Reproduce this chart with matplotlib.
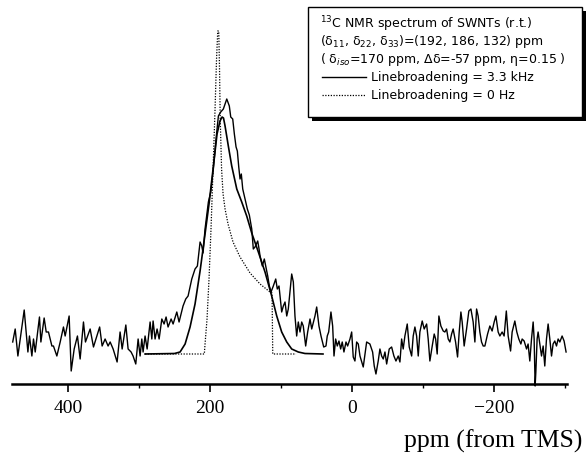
import matplotlib
matplotlib.use("Agg")
import matplotlib.pyplot as plt
from matplotlib.patches import Rectangle
from matplotlib.lines import Line2D

# ---------------- data ----------------
# experimental 13C NMR spectrum (ppm, intensity in arbitrary units)
noise_ppm = [478, 474.5, 470.7, 461.8, 456.6, 454.4, 451, 448.7, 446.3, 440.3,
             438.3, 433.7, 430.8, 427.6, 422.8, 420.6, 415.8, 411.1, 406.5, 404.1,
             398.5, 395.6, 391.4, 386.8, 383, 378.3, 375.5, 368.9, 364.2, 355.5,
             352, 347.8, 343.6, 340.7, 336.5, 330.9, 326.7, 323.8, 318.6, 315.4,
             311.2, 308.4, 304.6, 301.3, 298.5, 296.1, 294.3, 291.5, 288.6, 284.4,
             282, 280.2, 277.4, 274.6, 271.7, 267.9, 264.7, 261.9, 259.1, 254.8,
             252, 246.8, 243.6, 239.8, 238, 234.2, 230.9, 225.7, 221.1, 217.8,
             214, 211.6, 209.8, 207, 202.3, 199, 195.3, 191.5, 188.2, 184.9,
             181.2, 176.4, 172.8, 170.8, 168, 165.7, 163.3, 161.5, 159.5, 157.7,
             155.9, 153.9, 150.7, 147.4, 144.6, 141.2, 139, 136.6, 132.8, 130.9,
             129.5, 126.3, 123.5, 121.5, 118.7, 116.4, 114, 110.8, 107.4, 105.2,
             102.8, 99, 96.7, 94.3, 91.9, 89.7, 84.9, 82.6, 80.3, 77.9,
             75.6, 73.2, 70.8, 68.6, 65.2, 62.4, 59.1, 56.7, 52.1, 49.7,
             46.5, 43.6, 39.8, 36.6, 34.8, 32.8, 29.6, 27.2, 25.3, 23,
             20.7, 18.3, 15.9, 13.7, 11.3, 8.4, 6.1, 2.8, 0.4, -1.8,
             -4.2, -6.6, -8.9, -11.3, -15.9, -20.7, -25.3, -29.1, -31.4, -33.8,
             -37, -39.4, -41.8, -44.1, -46.5, -48.9, -52.5, -55.9, -59.1, -62,
             -65.2, -67.6, -70, -72.2, -74.6, -77.9, -80.7, -84.1, -86.3, -88.7,
             -91.1, -93.4, -95.7, -99, -101.8, -105.2, -107.4, -109.8, -113.1, -115.9,
             -117.9, -120.1, -122.5, -125.3, -128.6, -130.9, -133.3, -135.6, -138, -140.4,
             -142.6, -146, -148.8, -151.1, -153.5, -155.3, -158.1, -161.5, -164.7, -167.6,
             -170.8, -173.2, -175.6, -177.8, -180.2, -182.6, -184.9, -187.3, -191.1, -194.3,
             -197.5, -200.4, -202.8, -206, -208.4, -211.6, -214.4, -217.5, -220.1, -223.5,
             -225.7, -229.5, -232.3, -235.1, -238, -239.8, -242.6, -246, -248.2, -250.6,
             -253, -255.3, -256.7, -258.1, -259.1, -260.9, -262.3, -264.7, -267.1, -269.4,
             -271.7, -274.1, -276.4, -278.8, -281.2, -283.4, -285.8, -288.2, -290.5, -292.9,
             -296.1, -298.9, -301.7]
noise_int = [12, 25, -2, 44, 2, 18, -2, 15, 2, 37,
             12, 36, 22, 22, 8, 8, -2, 12, 27, 18,
             38, -17, 5, 18, -5, 32, 12, 25, 7, 27,
             8, 15, 8, 12, 5, -8, 22, 5, 29, 5,
             2, -2, -10, 15, -2, 15, 2, 18, 5, 32,
             15, 33, 15, 25, 15, 35, 30, 37, 27, 35,
             30, 42, 32, 43, 48, 55, 58, 75, 85, 88,
             112, 108, 101, 125, 152, 162, 185, 215, 238, 242,
             245, 255, 248, 237, 235, 220, 207, 203, 187, 175,
             180, 165, 155, 145, 139, 125, 105, 107, 113, 105,
             98, 88, 95, 88, 78, 68, 62, 68, 75, 65,
             68, 42, 48, 52, 38, 45, 80, 72, 38, 18,
             32, 22, 32, 28, 8, 22, 35, 25, 38, 47,
             28, 18, 7, 8, 18, 22, 42, 28, -2, 15,
             8, 13, 5, 12, 2, 12, 8, 15, 22, -3,
             -7, 12, 10, -2, -13, 12, 10, 2, -12, -20,
             -7, 5, -2, -5, 2, -10, 5, 7, -2, -7,
             -2, -8, 15, 5, 18, 30, 7, -2, 18, 27,
             18, -2, 22, 33, 25, 30, 15, -7, 8, 20,
             15, 0, 38, 28, 23, 22, 25, 15, 12, 20,
             25, 12, -3, 22, 42, 32, 8, 25, 43, 45,
             32, 12, 45, 38, 22, 12, 8, 8, 20, 28,
             23, 32, 38, 22, 18, 22, 18, 43, 18, 3,
             22, 33, 22, 15, 10, 15, 13, 5, 10, -7,
             15, 32, 15, -32, -18, 15, 22, 10, -2, 8,
             -12, 15, 30, 15, -2, 10, 13, 8, 15, 12,
             18, 13, 2]

# simulated powder pattern, line broadening 3.3 kHz
fit_ppm = [291.5, 250, 242.2, 235.1, 228.1, 221.1, 214, 207, 201.4, 195.7,
           190.1, 185.9, 183, 181, 178.8, 174.2, 169.4, 162.3, 155.3, 148.3,
           141.2, 131.9, 122.5, 113.1, 106, 99, 91.9, 84.9, 75.6, 66.2, 40.8]
fit_int = [0, 0.5, 2, 10, 27, 50, 83, 120, 150, 185,
           220, 233, 237, 236, 228, 208, 188, 165, 152, 138,
           121, 102, 82, 58, 38, 22, 12, 5, 2, 0.5, 0]

# simulated powder pattern, line broadening 0 Hz
sim_ppm = [291.5, 208, 207, 204.2, 201.4, 198.6, 195.7, 192.9, 190.8, 189.1,
           187.7, 186.6, 185.6, 183.7, 181.6, 178.8, 174.6, 167.6, 157.7, 143.6,
           129.5, 115.5, 112.6, 111.6, 78.8]
sim_int = [0, 0, 10, 35, 75, 125, 185, 245, 295, 323,
           323, 285, 235, 185, 160, 145, 130, 112, 97, 81,
           70, 62, 61, 0, 0]

major_ticks = [400, 200, 0, -200]
major_labels = ["400", "200", "0", "\u2212200"]
minor_ticks = [300, 100, -100, -300]

legend_lines = ["$^{13}$C NMR spectrum of SWNTs (r.t.)",
                "(\u03b4$_{11}$, \u03b4$_{22}$, \u03b4$_{33}$)=(192, 186, 132) ppm",
                "( \u03b4$_{iso}$=170 ppm, \u0394\u03b4=-57 ppm, \u03b7=0.15 )"]
series_labels = ["Linebroadening = 3.3 kHz", "Linebroadening = 0 Hz"]

# ---------------- figure ----------------
W, H = 586, 460
fig = plt.figure(figsize=(W / 100, H / 100), dpi=100)
ax = fig.add_axes([12 / W, 75 / H, 555 / W, 385 / H])

ax.plot(noise_ppm, noise_int, color="black", lw=1.0, clip_on=False)
ax.plot(fit_ppm, fit_int, color="black", lw=1.2)
ax.plot(sim_ppm, sim_int, color="black", lw=0.9, ls=(0, (1, 1.2)))

ax.set_xlim(479, -303)
ax.set_ylim(-30, 355)

for s in ["left", "right", "top"]:
    ax.spines[s].set_visible(False)
ax.spines["bottom"].set_linewidth(1.8)
ax.set_yticks([])
ax.set_xticks(major_ticks)
ax.set_xticklabels(major_labels, family="Liberation Serif", fontsize=14)
ax.set_xticks(minor_ticks, minor=True)
ax.tick_params(axis="x", which="major", length=6, width=1.2, pad=5)
ax.tick_params(axis="x", which="minor", length=3, width=1.0)

fig.text(582 / W, 1 - 441 / H, "ppm (from TMS)", family="Liberation Serif",
         fontsize=18.5, ha="right", va="center")

# legend box with shadow
bx0, bx1, by0, by1 = 308, 582, 8, 118
fig.add_artist(Rectangle(((bx0 + 4) / W, 1 - (by1 + 4) / H), (bx1 - bx0) / W,
                         (by1 - by0) / H, transform=fig.transFigure,
                         facecolor="black", edgecolor="black", lw=0))
fig.add_artist(Rectangle((bx0 / W, 1 - by1 / H), (bx1 - bx0) / W, (by1 - by0) / H,
                         transform=fig.transFigure, facecolor="white",
                         edgecolor="black", lw=1.0))

ys = [24, 42, 60, 78, 96]
for i, t in enumerate(legend_lines):
    fig.text(320 / W, 1 - ys[i] / H, t, fontsize=9, family="DejaVu Sans",
             ha="left", va="center")
fig.add_artist(Line2D([322 / W, 366 / W], [1 - ys[3] / H] * 2,
                      transform=fig.transFigure, color="black", lw=1.0))
fig.add_artist(Line2D([322 / W, 366 / W], [1 - ys[4] / H] * 2,
                      transform=fig.transFigure, color="black", lw=0.9,
                      ls=(0, (1, 1.2))))
for i, t in enumerate(series_labels):
    fig.text(371 / W, 1 - ys[3 + i] / H, t, fontsize=9, family="DejaVu Sans",
             ha="left", va="center")

fig.savefig("out.png", dpi=100)
